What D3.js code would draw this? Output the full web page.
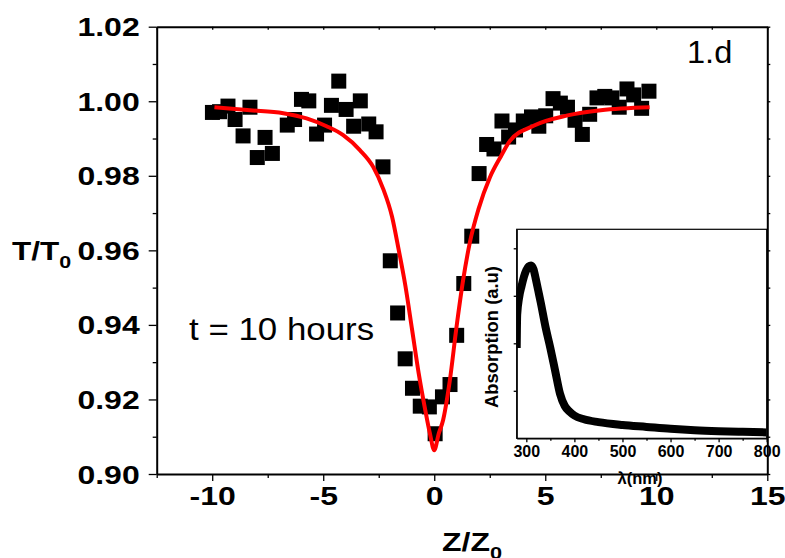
<!DOCTYPE html>
<html><head><meta charset="utf-8">
<script src="https://cdn.jsdelivr.net/npm/d3@7"></script>
<style>body{margin:0;background:#fff} svg{display:block}</style>
</head><body>
<svg id="c" width="785" height="558"></svg>
<script>
// ---------- data ----------
const zPos = [-9.99,-9.67,-9.29,-8.97,-8.61,-8.30,-7.97,-7.62,-7.29,-6.62,-6.29,-5.98,-5.65,-5.30,-4.94,-4.63,-4.30,-3.97,-3.63,-3.33,-2.95,-2.62,-2.31,-1.98,-1.65,-1.31,-0.98,-0.63,-0.22,0.04,0.37,0.71,1.01,1.33,
  1.69,2.02,2.36,2.69,3.05,3.35,3.66,4.01,4.38,4.71,5.02,5.35,5.68,6.00,6.34,6.67,7.00,7.33,7.68,8.00,8.33,8.68,8.98,9.34,9.67];
const tNorm = [0.9970,0.9972,0.9987,0.9951,0.9907,0.9984,0.9849,0.9903,0.9860,0.9936,0.9951,1.0005,1.0001,0.9912,0.9936,0.9989,1.0054,0.9978,0.9933,1.0001,0.9939,0.9918,0.9824,0.9572,0.9432,0.9309,0.9230,0.9182,0.9180,0.9108,0.9207,0.9240,0.9372,0.9511,
  0.9638,0.9806,0.9884,0.9872,0.9947,0.9904,0.9923,0.9947,0.9958,0.9933,0.9961,1.0007,0.9995,0.9984,0.9949,0.9911,0.9965,1.0009,1.0013,1.0009,0.9984,1.0033,1.0017,0.9981,1.0027];

const fitZ = [-9.9,-8.3,-6.8,-5.75,-4.85,-4.1,-3.35,-2.75,-2.3,-1.9,-1.6,-1.3,-1.0,-0.7,-0.4,-0.2,0,0.2,0.4,0.7,1.0,1.3,1.6,2.0,2.5,3.0,3.4,4.5,6.0,7.5,9.7];
const fitT = [0.9984,0.9976,0.9968,0.9954,0.9933,0.9909,0.9869,0.9824,0.9765,0.9690,0.9601,0.9505,0.9388,0.9270,0.9170,0.9110,0.9064,0.9108,0.9145,0.9250,0.9393,0.9520,0.9620,0.9712,0.9795,0.9852,0.9893,0.9935,0.9962,0.9976,0.9984];

const wavelength = [280,281,285,290,295,300,305,310,315,320,325,330,340,350,360,370,380,390,400,420,450,500,550,600,650,700,750,800];
const absorption = [0.95,1.30,1.48,1.60,1.70,1.77,1.81,1.82,1.78,1.67,1.55,1.43,1.17,0.95,0.71,0.47,0.34,0.28,0.24,0.20,0.17,0.14,0.12,0.10,0.085,0.075,0.068,0.062];

const xMajor = [-10,-5,0,5,10,15];
const xMinor = [-12.5,-7.5,-2.5,2.5,7.5,12.5];
const yMajor = [0.90,0.92,0.94,0.96,0.98,1.00,1.02];
const yMinor = [0.91,0.93,0.95,0.97,0.99,1.01];
const insetXMajor = [300,400,500,600,700,800];
const insetXMinor = [350,450,550,650,750];
const insetYMajor = [0.5,1.0,1.5,2.0];

// ---------- layout ----------
const svg = d3.select('#c');
const FONT = '"Liberation Sans", Arial, Helvetica, sans-serif';
const M = {l:156.7, r:767.3, t:26.7, b:474};
const x = d3.scaleLinear().domain([-12.5,15]).range([M.l,M.r]);
const y = d3.scaleLinear().domain([0.90,1.02]).range([M.b,M.t]);

function styleAxis(g, sw){
  g.select('.domain').attr('stroke','#000').attr('stroke-width',sw);
  g.selectAll('.tick line').attr('stroke','#000').attr('stroke-width',1.3);
}

// main axes
const gB = svg.append('g').attr('transform',`translate(0,${M.b})`)
  .call(d3.axisBottom(x).tickValues(xMajor).tickSize(7).tickSizeOuter(0).tickFormat(d=>String(d)));
styleAxis(gB,2);
gB.selectAll('text').attr('font-family',FONT).attr('font-weight','bold').attr('font-size',25)
  .attr('fill','#000').attr('y',13).attr('dy','0.71em').attr('transform','scale(1.28,1)');
svg.append('g').attr('transform',`translate(0,${M.b})`)
  .call(d3.axisBottom(x).tickValues(xMinor).tickSize(4).tickFormat('')).call(g=>{g.select('.domain').remove();styleAxis(g,1);});

const gT = svg.append('g').attr('transform',`translate(0,${M.t})`)
  .call(d3.axisTop(x).tickValues(xMajor.concat(xMinor)).tickSize(-3).tickSizeOuter(0).tickFormat(''));
styleAxis(gT,2);

const gL = svg.append('g').attr('transform',`translate(${M.l},0)`)
  .call(d3.axisLeft(y).tickValues(yMajor).tickSize(8).tickSizeOuter(0).tickFormat(d3.format('.2f')));
styleAxis(gL,2);
gL.selectAll('text').attr('font-family',FONT).attr('font-weight','bold').attr('font-size',25)
  .attr('fill','#000').attr('x',-17/1.28).attr('dy','0.36em').attr('transform','scale(1.28,1)');
svg.append('g').attr('transform',`translate(${M.l},0)`)
  .call(d3.axisLeft(y).tickValues(yMinor).tickSize(4).tickFormat('')).call(g=>{g.select('.domain').remove();styleAxis(g,1);});

const gR = svg.append('g').attr('transform',`translate(${M.r},0)`)
  .call(d3.axisRight(y).tickValues(yMajor.concat(yMinor)).tickSize(3).tickSizeOuter(0).tickFormat(''));
styleAxis(gR,2);

// axis titles
function label(str, px, py, size, weight, sx, anchor){
  return svg.append('text').attr('transform',`translate(${px},${py}) scale(${sx},1)`)
    .attr('font-family',FONT).attr('font-size',size).attr('font-weight',weight)
    .attr('text-anchor',anchor||'start').attr('fill','#000').text(str);
}
const zt = label('Z/Z', 472, 551, 25, 'bold', 1.28, 'middle');
zt.append('tspan').attr('font-size',17).attr('dy',8).text('0');
const tt = label('T/T', 12, 260, 25, 'bold', 1.26, 'start');
tt.append('tspan').attr('font-size',17).attr('dy',8).text('0');

label('1.d', 687, 62.5, 31, 'normal', 1.05, 'start');
label('t = 10 hours', 189, 340, 32, 'normal', 1.09, 'start');

// data squares
svg.append('g').selectAll('rect').data(zPos.map((z,i)=>[z,tNorm[i]])).join('rect')
  .attr('x',d=>x(d[0])-7.5).attr('y',d=>y(d[1])-7.5).attr('width',15).attr('height',15).attr('fill','#000');

// fit line
svg.append('path').datum(fitZ.map((z,i)=>[z,fitT[i]]))
  .attr('d',d3.line().x(d=>x(d[0])).y(d=>y(d[1])).curve(d3.curveMonotoneX))
  .attr('fill','none').attr('stroke','#ff0000').attr('stroke-width',4);

// ---------- inset ----------
const I = {l:516.7, r:766.7, t:229.3, b:438.3};
const xi = d3.scaleLinear().domain([280,800]).range([I.l,I.r]);
const yi = d3.scaleLinear().domain([0,2.2]).range([I.b,I.t]);
svg.append('rect').attr('x',I.l).attr('y',I.t).attr('width',I.r-I.l).attr('height',I.b-I.t)
  .attr('fill','#fff').attr('stroke','#000').attr('stroke-width',1.2);
svg.append('clipPath').attr('id','ic').append('rect')
  .attr('x',I.l).attr('y',I.t).attr('width',I.r-I.l).attr('height',I.b-I.t);
svg.append('path').datum(wavelength.map((w,i)=>[w,absorption[i]]))
  .attr('clip-path','url(#ic)')
  .attr('d',d3.line().x(d=>xi(d[0])).y(d=>yi(d[1])).curve(d3.curveMonotoneX))
  .attr('fill','none').attr('stroke','#000').attr('stroke-width',8);

const gIB = svg.append('g').attr('transform',`translate(0,${I.b})`)
  .call(d3.axisBottom(xi).tickValues(insetXMajor).tickSize(4).tickSizeOuter(0).tickFormat(d=>String(d)));
styleAxis(gIB,1.2);
gIB.selectAll('text').attr('font-family',FONT).attr('font-weight','bold').attr('font-size',16)
  .attr('fill','#000').attr('y',7).attr('dy','0.71em');
svg.append('g').attr('transform',`translate(0,${I.b})`)
  .call(d3.axisBottom(xi).tickValues(insetXMinor).tickSize(2.5).tickFormat('')).call(g=>{g.select('.domain').remove();styleAxis(g,1);});
const gIL = svg.append('g').attr('transform',`translate(${I.l},0)`)
  .call(d3.axisLeft(yi).tickValues(insetYMajor).tickSize(3).tickSizeOuter(0).tickFormat(''));
styleAxis(gIL,1.2);

svg.append('text').attr('transform',`translate(498,337) rotate(-90) scale(1.05,1)`)
  .attr('font-family',FONT).attr('font-size',17.5).attr('font-weight','bold')
  .attr('text-anchor','middle').attr('fill','#000').text('Absorption (a.u)');
svg.append('text').attr('x',640).attr('y',484)
  .attr('font-family',FONT).attr('font-size',16.5).attr('font-weight','bold')
  .attr('text-anchor','middle').attr('fill','#000').text('λ(nm)');
</script>
</body></html>
